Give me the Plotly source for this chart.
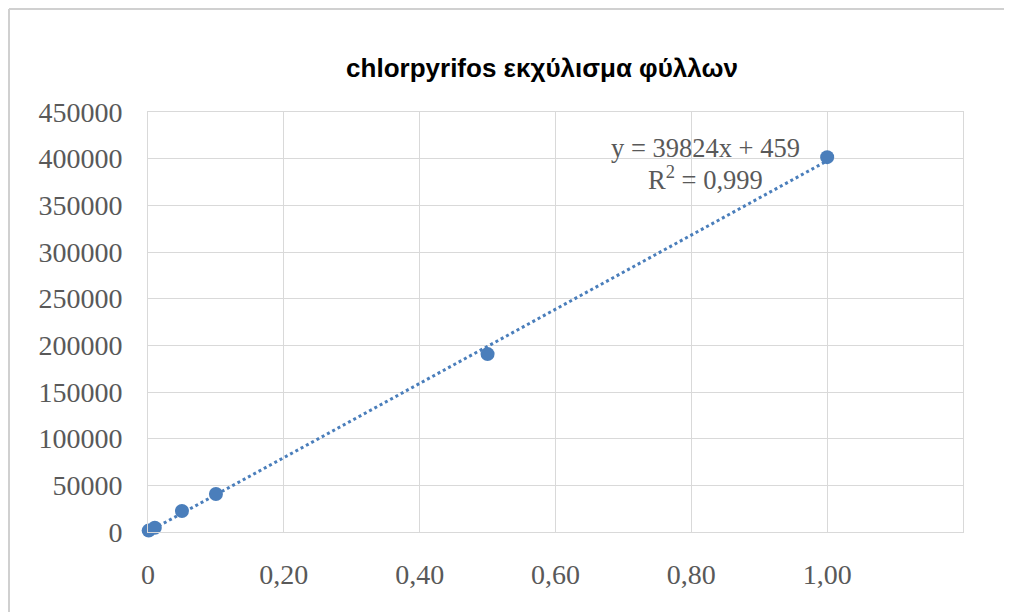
import numpy as np
import plotly.graph_objects as go

# Data
conc = [0.001, 0.01, 0.05, 0.1, 0.5, 1.0]
area = [1500, 4500, 22500, 40700, 190600, 401600]

title_text = "chlorpyrifos εκχύλισμα φύλλων"
eq_text = "y = 39824x + 459"
r2_text = "R<sup>2</sup> = 0,999"

x_tickvals = [0, 0.2, 0.4, 0.6, 0.8, 1.0]
x_ticktext = ["0", "0,20", "0,40", "0,60", "0,80", "1,00"]
y_tickvals = [0, 50000, 100000, 150000, 200000, 250000, 300000, 350000, 400000, 450000]

blue = "#4A7EBB"
grid = "#D9D9D9"
txt = "#595959"

# linear trendline fitted from the data
slope, intercept = np.polyfit(conc, area, 1)
tx = [0.0, max(conc)]
ty = [slope * v + intercept for v in tx]

fig = go.Figure()
fig.add_trace(go.Scatter(x=tx, y=ty, mode="lines",
                         line=dict(color=blue, width=3, dash="dot"),
                         hoverinfo="skip", showlegend=False))
fig.add_trace(go.Scatter(x=conc, y=area, mode="markers", cliponaxis=False,
                         marker=dict(color=blue, size=14),
                         showlegend=False))

# page has an 8px body margin: work in figure coordinates = page - 8
OFF = 8
W, H = 1012 - OFF, 612 - OFF
L, T = 148 - OFF, 112 - OFF
R = W - (963 - OFF)
B = H - (532 - OFF)
pw, ph = W - L - R, H - T - B

def px(xpage):
    return (xpage - OFF - L) / pw

def py(ypage):
    return (H - B - (ypage - OFF)) / ph

serif = "Liberation Serif, Times New Roman, serif"

fig.update_layout(
    width=W, height=H,
    margin=dict(l=L, r=R, t=T, b=B, autoexpand=False),
    paper_bgcolor="white", plot_bgcolor="white",
    title=dict(text="<b>" + title_text + "</b>",
               font=dict(family="Liberation Sans, Arial", size=26, color="black"),
               x=px(542), xref="paper", xanchor="center",
               y=1 - (68 - OFF) / H, yref="container", yanchor="middle"),
    xaxis=dict(range=[0, 1.2], tickvals=x_tickvals, ticktext=x_ticktext,
               showgrid=True, gridcolor=grid, gridwidth=1,
               zeroline=False, showline=True, linecolor=grid, linewidth=1, mirror=True,
               ticks="", ticklabelstandoff=17,
               tickfont=dict(family=serif, size=28, color=txt)),
    yaxis=dict(range=[0, 450000], tickvals=y_tickvals,
               ticktext=[str(v) for v in y_tickvals],
               showgrid=True, gridcolor=grid, gridwidth=1,
               zeroline=False, showline=True, linecolor=grid, linewidth=1, mirror=True,
               ticks="", ticklabelstandoff=19,
               tickfont=dict(family=serif, size=28, color=txt)),
    showlegend=False,
    shapes=[
        dict(type="line", xref="paper", yref="paper",
             x0=px(OFF + 1), x1=px(1012), y0=py(OFF + 1), y1=py(OFF + 1),
             line=dict(color="#D0D0D0", width=2)),
        dict(type="line", xref="paper", yref="paper",
             x0=px(OFF + 1), x1=px(OFF + 1), y0=py(OFF + 1), y1=py(612),
             line=dict(color="#D0D0D0", width=2)),
    ],
    annotations=[
        dict(text=eq_text, xref="paper", yref="paper", x=px(705), y=py(148),
             xanchor="center", yanchor="middle", showarrow=False,
             font=dict(family=serif, size=26.5, color=txt)),
        dict(text=r2_text, xref="paper", yref="paper", x=px(705), y=py(178),
             xanchor="center", yanchor="middle", showarrow=False,
             font=dict(family=serif, size=26.5, color=txt)),
    ],
)

fig.write_html("out.html")
